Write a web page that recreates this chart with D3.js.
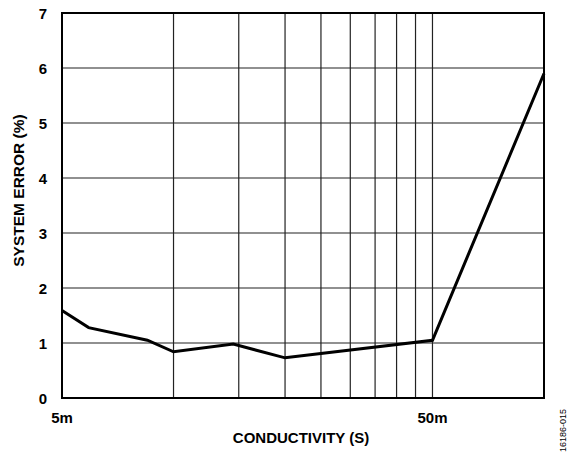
<!DOCTYPE html>
<html>
<head>
<meta charset="utf-8">
<script src="https://cdn.jsdelivr.net/npm/d3@7"></script>
<style>
  body { margin: 0; background: #fff; }
  svg text { font-family: "Liberation Sans", Arial, sans-serif; }
</style>
</head>
<body>
<div></div>
<script>
// data (conductivity in S, error in %)
const conductivity = [0.005, 0.0059, 0.0085, 0.010, 0.0145, 0.020, 0.050, 0.100];
const systemError = [1.59, 1.28, 1.05, 0.84, 0.98, 0.73, 1.05, 5.90];
const xGrid = [0.010, 0.015, 0.020, 0.025, 0.030, 0.035, 0.040, 0.045, 0.050];
const xTickVals = [0.005, 0.050];
const xTickLabels = ["5m", "50m"];
const yTicks = [0, 1, 2, 3, 4, 5, 6, 7];

const margin = { top: 13, right: 23, bottom: 58, left: 62 },
    width = 567 - margin.left - margin.right,
    height = 456 - margin.top - margin.bottom;

const svg = d3.select("body div")
    .append("svg")
    .attr("width", 567)
    .attr("height", 456)
    .append("g")
    .attr("transform", `translate(${margin.left},${margin.top})`);

const x = d3.scaleLog()
    .domain([0.005, 0.100])
    .range([0, width]);

const y = d3.scaleLinear()
    .domain([0, 7])
    .range([height, 0]);

// grid lines
svg.append("g")
    .selectAll("line")
    .data(xGrid)
    .join("line")
    .attr("x1", d => x(d)).attr("x2", d => x(d))
    .attr("y1", 0).attr("y2", height)
    .attr("stroke", "#222")
    .attr("stroke-width", 1.2);

svg.append("g")
    .selectAll("line")
    .data(yTicks.slice(1, -1))
    .join("line")
    .attr("x1", 0).attr("x2", width)
    .attr("y1", d => y(d)).attr("y2", d => y(d))
    .attr("stroke", "#222")
    .attr("stroke-width", 1.2);

// frame
svg.append("rect")
    .attr("x", 0).attr("y", 0)
    .attr("width", width).attr("height", height)
    .attr("fill", "none")
    .attr("stroke", "#000")
    .attr("stroke-width", 2);

// y tick labels
svg.append("g")
    .selectAll("text")
    .data(yTicks)
    .join("text")
    .attr("x", -15)
    .attr("y", d => y(d) + 5.5)
    .attr("text-anchor", "end")
    .style("font-size", "15px")
    .style("font-weight", "bold")
    .text(d => d);

// x tick labels
svg.append("g")
    .selectAll("text")
    .data(xTickVals)
    .join("text")
    .attr("x", d => x(d))
    .attr("y", height + 25)
    .attr("text-anchor", "middle")
    .style("font-size", "15px")
    .style("font-weight", "bold")
    .text((d, i) => xTickLabels[i]);

// data line
const line = d3.line()
    .x((d, i) => x(conductivity[i]))
    .y(d => y(d));

svg.append("path")
    .datum(systemError)
    .attr("d", line)
    .attr("fill", "none")
    .attr("stroke", "#000")
    .attr("stroke-width", 3)
    .attr("stroke-linejoin", "miter");

// axis titles
svg.append("text")
    .attr("x", 239)
    .attr("y", height + 45)
    .attr("text-anchor", "middle")
    .style("font-size", "15px")
    .style("font-weight", "bold")
    .text("CONDUCTIVITY (S)");

svg.append("text")
    .attr("transform", "rotate(-90)")
    .attr("x", -177.5)
    .attr("y", -38.5)
    .attr("text-anchor", "middle")
    .style("font-size", "15.5px")
    .style("font-weight", "bold")
    .text("SYSTEM ERROR (%)");

// figure code
svg.append("text")
    .attr("transform", `translate(${width + 22},${height + 54}) rotate(-90)`)
    .attr("text-anchor", "start")
    .style("font-size", "9px")
    .text("16186-015");
</script>
</body>
</html>
